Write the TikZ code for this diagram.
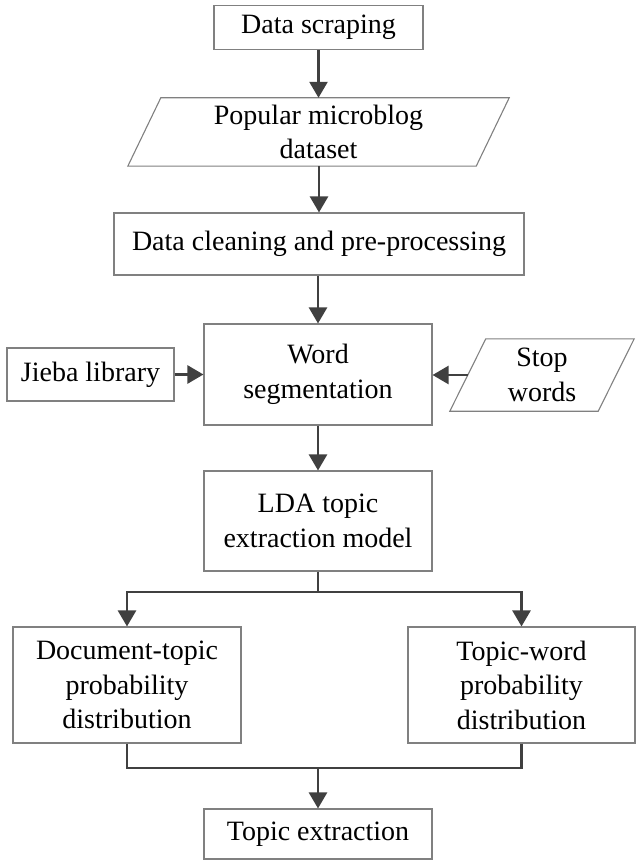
\documentclass[tikz,border=0pt]{standalone}
\usepackage{fontspec}
\setmainfont{Liberation Serif}
\usetikzlibrary{arrows.meta,calc}
\begin{document}
\begin{tikzpicture}[x=1pt,y=-1pt,
  box/.style={draw=boxgray, line width=1.1pt, align=center, inner sep=0pt,
    font=\fontsize{28}{34.5}\selectfont},
  pbox/.style={align=center, inner sep=0pt, font=\fontsize{28}{34.5}\selectfont},
  pshape/.style={draw=boxgray, line width=1.1pt},
  conn/.style={draw=linegray, line width=2.6pt,
    -{Triangle[length=16pt,width=18pt]}},
  plain/.style={draw=linegray, line width=2.6pt}
]
\definecolor{boxgray}{HTML}{808080}
\definecolor{linegray}{HTML}{404040}
\useasboundingbox (0,0) rectangle (641,866);

% main column
\node[box, minimum width=209pt, minimum height=44pt] (ds) at (318.5,27.5) {Data scraping};
\node[pbox, minimum width=381pt, minimum height=68pt] (pm) at (318.5,132) {Popular microblog\\dataset};
\draw[pshape] (pm.south west) -- ([xshift=-33pt]pm.south east) -- (pm.north east) -- ([xshift=33pt]pm.north west) -- cycle;
\node[box, minimum width=410pt, minimum height=62pt] (dc) at (319,244) {Data cleaning and pre-processing};
\node[box, minimum width=228pt, minimum height=101pt] (ws) at (318,374.5) {Word\\segmentation};
\node[box, minimum width=167pt, minimum height=53pt] (jb) at (90.5,374.5) {Jieba library};
\node[pbox, minimum width=184pt, minimum height=72pt] (sw) at (542,375) {Stop\\words};
\draw[pshape] (sw.south west) -- ([xshift=-36pt]sw.south east) -- (sw.north east) -- ([xshift=36pt]sw.north west) -- cycle;
\node[box, minimum width=228pt, minimum height=100pt] (lda) at (318,521) {LDA topic\\extraction model};
\node[box, minimum width=228pt, minimum height=116pt] (dl) at (127,685) {Document-topic\\probability\\distribution};
\node[box, minimum width=227pt, minimum height=116pt] (dr) at (521.5,685) {Topic-word\\probability\\distribution};
\node[box, minimum width=228pt, minimum height=50pt] (te) at (318,834) {Topic extraction};

\coordinate (b1) at (318,592);
\coordinate (m1) at (318,768);

% connectors
\draw[conn] (ds.south) -- (pm.north -| ds.south);
\draw[conn] (pm.south -| dc.north) -- (dc.north);
\draw[conn] (dc.south -| ws.north) -- (ws.north);
\draw[conn] (jb.east) -- (ws.west);
\draw[conn] ([xshift=18pt]sw.west) -- (ws.east |- sw.west);
\draw[conn] (ws.south) -- (lda.north);
\draw[plain] (lda.south) -- (b1);
\draw[conn] (b1) -| (dl.north);
\draw[conn] (b1) -| (dr.north);
\draw[plain] (dl.south) |- (m1);
\draw[plain] (dr.south) |- (m1);
\draw[conn] (m1) -- (te.north);
\end{tikzpicture}
\end{document}
